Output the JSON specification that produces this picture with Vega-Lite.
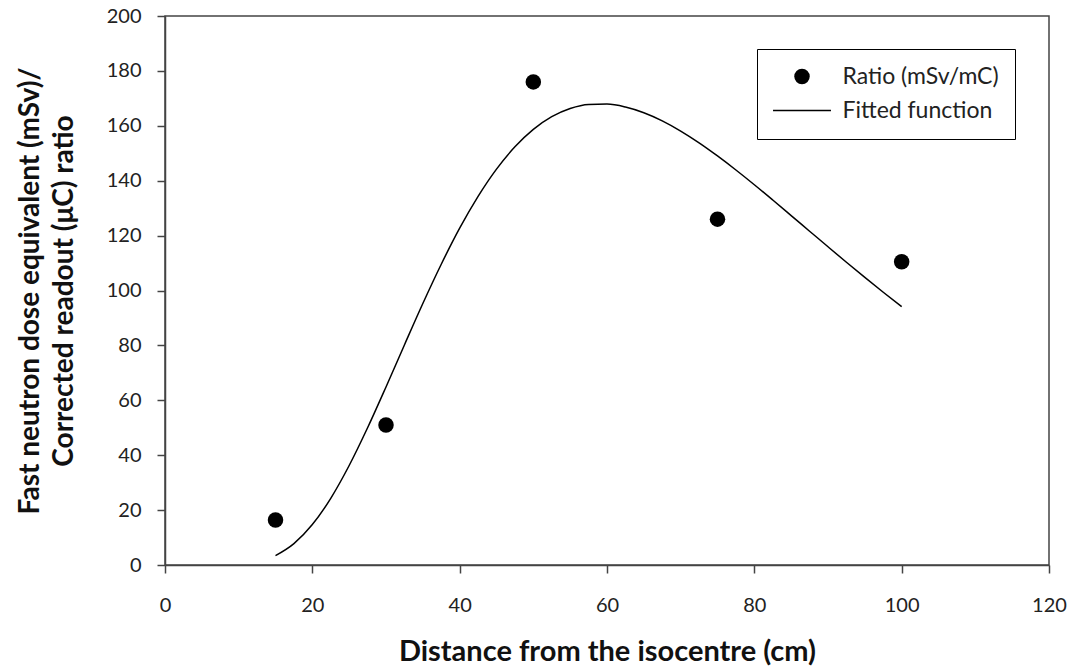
{
  "$schema": "https://vega.github.io/schema/vega-lite/v6.json",
  "width": 884,
  "height": 549,
  "autosize": "none",
  "padding": {"left": 165, "top": 16, "right": 26, "bottom": 103},
  "background": "white",
  "config": {
    "font": "Lato",
    "view": {"stroke": "#444", "strokeWidth": 1.5},
    "axis": {
      "grid": false,
      "domainColor": "#444",
      "domainWidth": 1.5,
      "tickColor": "#444",
      "tickWidth": 1.5,
      "tickSize": 8,
      "labelFont": "Lato",
      "labelFontSize": 20,
      "labelColor": "#222",
      "titleFont": "Lato",
      "titleFontWeight": "bold",
      "titleColor": "#111"
    }
  },
  "datasets": {
    "measured": [
      {"distance": 15, "ratio": 16.4, "series": "Ratio (mSv/mC)"},
      {"distance": 30, "ratio": 51.0, "series": "Ratio (mSv/mC)"},
      {"distance": 50, "ratio": 176.0, "series": "Ratio (mSv/mC)"},
      {"distance": 75, "ratio": 126.0, "series": "Ratio (mSv/mC)"},
      {"distance": 100, "ratio": 110.5, "series": "Ratio (mSv/mC)"}
    ],
    "fitted": [
      {"distance": 15, "ratio": 3.39},
      {"distance": 17.5, "ratio": 7.77},
      {"distance": 20, "ratio": 14.72},
      {"distance": 22.5, "ratio": 24.29},
      {"distance": 25, "ratio": 36.24},
      {"distance": 27.5, "ratio": 49.98},
      {"distance": 30, "ratio": 64.86},
      {"distance": 32.5, "ratio": 80.17},
      {"distance": 35, "ratio": 95.26},
      {"distance": 37.5, "ratio": 109.57},
      {"distance": 40, "ratio": 122.71},
      {"distance": 42.5, "ratio": 134.30},
      {"distance": 45, "ratio": 144.23},
      {"distance": 47.5, "ratio": 152.34},
      {"distance": 50, "ratio": 158.69},
      {"distance": 52.5, "ratio": 163.31},
      {"distance": 55, "ratio": 166.29},
      {"distance": 57.5, "ratio": 167.77},
      {"distance": 60, "ratio": 167.90},
      {"distance": 62.5, "ratio": 166.84},
      {"distance": 65, "ratio": 164.75},
      {"distance": 67.5, "ratio": 161.79},
      {"distance": 70, "ratio": 158.08},
      {"distance": 72.5, "ratio": 153.79},
      {"distance": 75, "ratio": 149.01},
      {"distance": 77.5, "ratio": 143.90},
      {"distance": 80, "ratio": 138.53},
      {"distance": 82.5, "ratio": 132.96},
      {"distance": 85, "ratio": 127.29},
      {"distance": 87.5, "ratio": 121.60},
      {"distance": 90, "ratio": 115.92},
      {"distance": 92.5, "ratio": 110.29},
      {"distance": 95, "ratio": 104.77},
      {"distance": 97.5, "ratio": 99.37},
      {"distance": 100, "ratio": 94.11}
    ]
  },
  "encoding": {
    "x": {
      "field": "distance",
      "type": "quantitative",
      "scale": {"domain": [0, 120], "nice": false},
      "axis": {"values": [0, 20, 40, 60, 80, 100, 120], "labelPadding": 22, "title": "Distance from the isocentre (cm)", "titleFontSize": 29, "titlePadding": 22, "labelFlush": false}
    },
    "y": {
      "field": "ratio",
      "type": "quantitative",
      "scale": {"domain": [0, 200], "nice": false},
      "axis": {"values": [0, 20, 40, 60, 80, 100, 120, 140, 160, 180, 200], "labelPadding": 16, "title": ["Fast neutron dose equivalent (mSv)/", "Corrected readout (μC) ratio"], "titleFontSize": 28, "titlePadding": 28, "titleLineHeight": 34, "labelFlush": false}
    }
  },
  "layer": [
    {
      "data": {"name": "fitted"},
      "mark": {"type": "line", "color": "black", "strokeWidth": 1.5, "interpolate": "monotone"},
      "encoding": {}
    },
    {
      "data": {"name": "measured"},
      "mark": {"type": "point", "filled": true, "color": "black", "opacity": 1, "size": 240},
      "encoding": {
        "shape": {
          "field": "series",
          "type": "nominal",
          "scale": {"domain": ["Ratio (mSv/mC)", "Fitted function"], "range": ["circle", "M-3.74,-0.1L3.74,-0.1L3.74,0.1L-3.74,0.1Z"]},
          "legend": {
            "title": null,
            "orient": "none",
            "legendX": 592,
            "legendY": 33,
            "strokeColor": "black",
            "fillColor": "white",
            "padding": 16,
            "rowPadding": 10,
            "labelFontSize": 23,
            "labelFont": "Lato",
            "labelColor": "#222",
            "labelOffset": 29,
            "symbolOffset": 17.5,
            "symbolSize": 240,
            "symbolStrokeWidth": 1.5,
            "symbolFillColor": "black",
            "symbolOpacity": 1,
            "encode": {
              "symbols": {
                "update": {
                  "fill": {"value": "black"},
                  "opacity": {"value": 1}
                }
              }
            }
          }
        }
      }
    }
  ]
}
